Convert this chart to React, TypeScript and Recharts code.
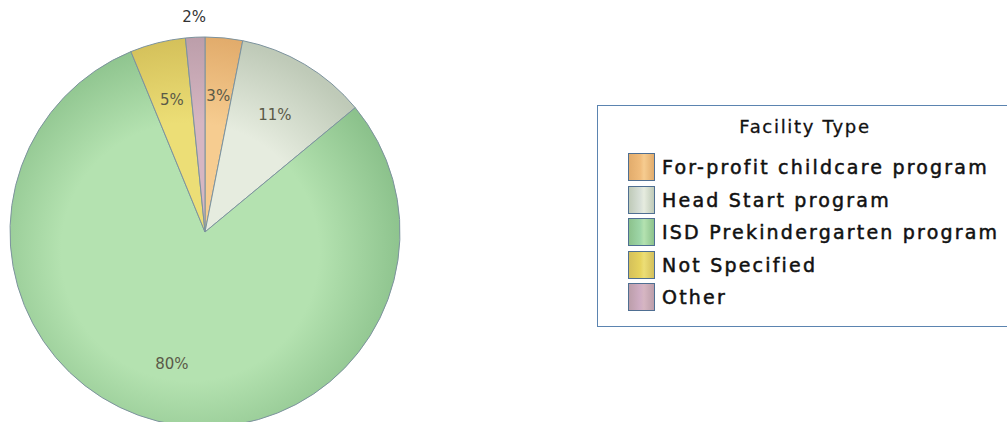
import { PieChart, Pie, Cell, Legend } from 'recharts'

const categories = [
  'For-profit childcare program',
  'Head Start program',
  'ISD Prekindergarten program',
  'Not Specified',
  'Other',
]
const shares = [3.1, 10.9, 79.8, 4.6, 1.6]
const percentLabels = ['3%', '11%', '80%', '5%', '2%']

// inner / outer shades of each slice
const LIGHT = ['#f6cc90', '#e6ecdf', '#b4e2b0', '#ecde76', '#d6b6c2']
const DARK = ['#e2ac6c', '#bfcab8', '#8cc28c', '#d4c05a', '#bc9eaa']
const SWATCH = ['#f0bc7c', '#d8e0d8', '#9ed6a8', '#e6d35e', '#d0aec4']

const data = categories.map((name, i) => ({ name, value: shares[i], pct: percentLabels[i] }))

const RAD = Math.PI / 180
const CX = 205
const CY = 232
const R = 195

function renderLabel(props: any) {
  const { cx, cy, midAngle, outerRadius, index } = props
  const outside = index === 4
  const r = outside ? outerRadius + 20 : outerRadius * 0.7
  const x = cx + r * Math.cos(-midAngle * RAD)
  const y = cy + r * Math.sin(-midAngle * RAD)
  return (
    <text
      x={x}
      y={y}
      textAnchor="middle"
      dominantBaseline="central"
      fill={outside ? '#333333' : '#5a5a48'}
      fontSize={15}
      fontFamily="DejaVu Sans, sans-serif"
    >
      {data[index].pct}
    </text>
  )
}

function renderLegend() {
  return (
    <div
      style={{
        width: 420,
        height: 222,
        border: '1px solid #5b84b0',
        background: '#fff',
        boxSizing: 'border-box',
        fontFamily: 'DejaVu Sans, sans-serif',
        color: '#111',
      }}
    >
      <div
        style={{
          position: 'absolute',
          left: 0,
          top: 11,
          width: 416,
          textAlign: 'center',
          fontSize: 18,
          letterSpacing: 1.7,
          WebkitTextStroke: '0.3px #111',
        }}
      >
        Facility Type
      </div>
      <div style={{ position: 'absolute', left: 31, top: 46 }}>
        {categories.map((name, i) => (
          <div key={name} style={{ display: 'flex', alignItems: 'center', height: 32.5 }}>
            <div
              style={{
                width: 25,
                height: 26,
                border: '1px solid #4f6f92',
                background: `linear-gradient(to right, ${DARK[i]}, ${SWATCH[i]} 45%, ${LIGHT[i]} 60%, ${DARK[i]})`,
                marginRight: 7,
              }}
            />
            <span style={{ fontSize: 19, letterSpacing: 2.2, WebkitTextStroke: '0.5px #111', whiteSpace: 'nowrap' }}>
              {name}
            </span>
          </div>
        ))}
      </div>
    </div>
  )
}

export default function App() {
  return (
    <div style={{ position: 'absolute', left: 0, top: 0, width: 1007, height: 422, overflow: 'hidden' }}>
      <PieChart width={1007} height={422} margin={{ top: 0, right: 0, bottom: 0, left: 0 }}>
        <defs>
          {LIGHT.map((c, i) => (
            <radialGradient key={i} id={`shade${i}`} gradientUnits="userSpaceOnUse" cx={CX - 15} cy={CY + 20} r={R + 20}>
              <stop offset="0%" stopColor={c} />
              <stop offset="60%" stopColor={c} />
              <stop offset="100%" stopColor={DARK[i]} />
            </radialGradient>
          ))}
        </defs>
        <Pie
          data={data}
          dataKey="value"
          nameKey="name"
          cx={CX}
          cy={CY}
          outerRadius={R}
          startAngle={90}
          endAngle={-270}
          stroke="#7d939e"
          strokeWidth={1}
          labelLine={false}
          label={renderLabel}
          isAnimationActive={false}
        >
          {data.map((entry, index) => (
            <Cell key={`cell-${index}`} fill={`url(#shade${index})`} />
          ))}
        </Pie>
        <Legend
          layout="vertical"
          align="right"
          verticalAlign="top"
          wrapperStyle={{ left: 597, top: 105, width: 420 }}
          content={renderLegend}
        />
      </PieChart>
    </div>
  )
}
